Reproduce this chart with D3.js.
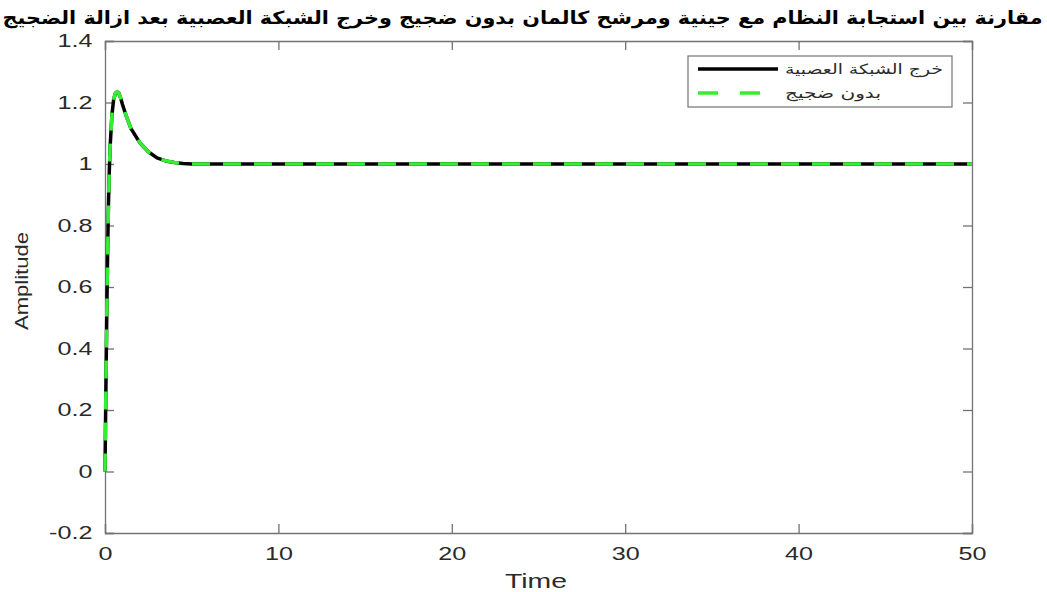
<!DOCTYPE html>
<html>
<head>
<meta charset="utf-8">
<script src="https://cdn.jsdelivr.net/npm/d3@7"></script>
<style>
  body { margin: 0; background: #fff; }
  svg { display: block; }
</style>
</head>
<body>
<svg id="chart" width="1047" height="592"></svg>
<script>
// Step response samples (time in seconds, amplitude)
const timeSamples = [0, 0.05, 0.1, 0.15, 0.2, 0.25, 0.3, 0.4, 0.5, 0.6, 0.7, 0.8, 0.9, 1.0, 1.2, 1.5, 2.0, 2.5, 3.0, 3.5, 4.0, 4.5, 5.0, 6.0, 8.0, 10, 20, 30, 40, 50];
const networkOutput = [0, 0.26, 0.5, 0.71, 0.87, 0.98, 1.06, 1.16, 1.21, 1.23, 1.235, 1.23, 1.215, 1.195, 1.16, 1.115, 1.07, 1.04, 1.02, 1.01, 1.005, 1.002, 1.0, 1.0, 1.0, 1.0, 1.0, 1.0, 1.0, 1.0];
const noiseFree = [0, 0.26, 0.5, 0.71, 0.87, 0.98, 1.06, 1.16, 1.21, 1.23, 1.235, 1.23, 1.215, 1.195, 1.16, 1.115, 1.07, 1.04, 1.02, 1.01, 1.005, 1.002, 1.0, 1.0, 1.0, 1.0, 1.0, 1.0, 1.0, 1.0];

const xTicks = [0, 10, 20, 30, 40, 50];
const yTicks = [-0.2, 0, 0.2, 0.4, 0.6, 0.8, 1, 1.2, 1.4];

const titleText = "مقارنة بين استجابة النظام مع جينية ومرشح كالمان بدون ضجيج وخرج الشبكة العصبية بعد ازالة الضجيج";
const seriesNames = ["خرج الشبكة العصبية", "بدون ضجيج"];

const margin = { left: 105, right: 75, top: 41, bottom: 59 };
const W = 1047, H = 592;
const svg = d3.select("#chart");
const axisColor = "#737373";
const textColor = "#2a2a2a";
const labelFont = "Liberation Sans, Arial, sans-serif";
const wide = 1.4; // horizontal stretch of the axis lettering

const x = d3.scaleLinear().domain([0, 50]).range([margin.left, W - margin.right]);
const y = d3.scaleLinear().domain([-0.2, 1.4]).range([H - margin.bottom, margin.top]);

// plain hyphen for negatives, no trailing zeros
const fmt = d => (Math.abs(d) < 1e-9 ? "0" : String(+d.toFixed(1)));

// Axes (box with inward ticks on all four sides)
const tickLen = 9;
const bottomAxis = d3.axisBottom(x).tickValues(xTicks).tickSize(-tickLen).tickPadding(14).tickFormat(fmt);
const leftAxis = d3.axisLeft(y).tickValues(yTicks).tickSize(-tickLen).tickPadding(9).tickFormat(fmt);
const topAxis = d3.axisTop(x).tickValues(xTicks).tickSize(-tickLen).tickFormat("");
const rightAxis = d3.axisRight(y).tickValues(yTicks).tickSize(-tickLen).tickFormat("");

function styleAxis(g) {
  g.selectAll("path, line").attr("stroke", axisColor).attr("stroke-width", 1.3);
  g.selectAll("text")
    .attr("fill", textColor)
    .attr("transform", `scale(${wide},1)`)
    .style("font-family", labelFont)
    .style("font-size", "18px");
}

svg.append("g").attr("transform", `translate(0,${y(-0.2)})`).call(bottomAxis).call(styleAxis);
svg.append("g").attr("transform", `translate(${x(0)},0)`).call(leftAxis).call(styleAxis);
svg.append("g").attr("transform", `translate(0,${y(1.4)})`).call(topAxis).call(styleAxis);
svg.append("g").attr("transform", `translate(${x(50)},0)`).call(rightAxis).call(styleAxis);

// Series lines
const lineGen = vals => d3.line().x((d, i) => x(timeSamples[i])).y(d => y(d))(vals);

svg.append("path")
  .attr("d", lineGen(networkOutput))
  .attr("fill", "none")
  .attr("stroke", "#000")
  .attr("stroke-width", 3.5)
  .attr("stroke-linejoin", "round");

svg.append("path")
  .attr("d", lineGen(noiseFree))
  .attr("fill", "none")
  .attr("stroke", "#33ee33")
  .attr("stroke-width", 3.5)
  .attr("stroke-dasharray", "18,13");

// Title
svg.append("text")
  .attr("x", W / 2 - 1)
  .attr("y", 24)
  .attr("text-anchor", "middle")
  .attr("direction", "rtl")
  .attr("textLength", 1040)
  .attr("lengthAdjust", "spacingAndGlyphs")
  .style("font-family", "DejaVu Sans, sans-serif")
  .style("font-weight", "bold")
  .style("font-size", "18px")
  .attr("fill", "#000")
  .text(titleText);

// Axis labels
svg.append("text")
  .attr("x", 536)
  .attr("y", 588)
  .attr("text-anchor", "middle")
  .attr("textLength", 62)
  .attr("lengthAdjust", "spacingAndGlyphs")
  .style("font-family", labelFont)
  .style("font-size", "21px")
  .attr("fill", textColor)
  .text("Time");

svg.append("text")
  .attr("transform", `translate(28,281) rotate(-90)`)
  .attr("text-anchor", "middle")
  .attr("textLength", 98)
  .attr("lengthAdjust", "spacingAndGlyphs")
  .style("font-family", labelFont)
  .style("font-size", "19px")
  .attr("fill", textColor)
  .text("Amplitude");

// Legend
const legend = svg.append("g");
legend.append("rect")
  .attr("x", 688).attr("y", 56).attr("width", 264).attr("height", 51)
  .attr("fill", "#fff").attr("stroke", axisColor).attr("stroke-width", 1.2);

const legendRows = [
  { name: seriesNames[0], color: "#000", dash: null, yy: 69, len: 158 },
  { name: seriesNames[1], color: "#33ee33", dash: "20,22", yy: 93, len: 96 }
];
legendRows.forEach(r => {
  legend.append("line")
    .attr("x1", 698).attr("x2", 778).attr("y1", r.yy).attr("y2", r.yy)
    .attr("stroke", r.color).attr("stroke-width", 3.5)
    .attr("stroke-dasharray", r.dash);
  legend.append("text")
    .attr("x", 785).attr("y", r.yy + 5)
    .attr("text-anchor", "start")
    .attr("textLength", r.len)
    .attr("lengthAdjust", "spacingAndGlyphs")
    .style("font-family", "DejaVu Sans, sans-serif")
    .style("font-size", "14px")
    .attr("fill", textColor)
    .text(r.name);
});
</script>
</body>
</html>
